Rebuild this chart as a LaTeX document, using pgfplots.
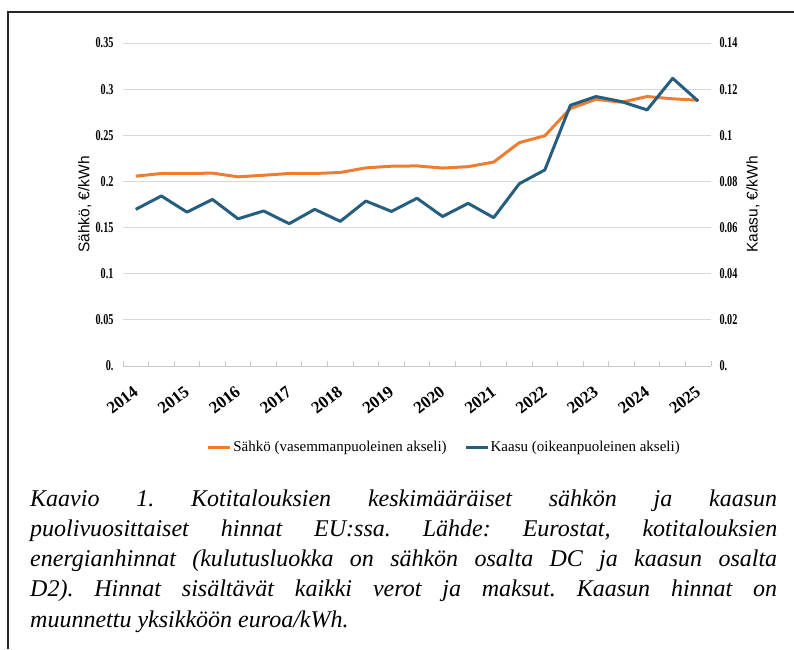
\documentclass[border=0pt]{standalone}
\usepackage{pgfplots}
\pgfplotsset{compat=1.18}
\usepackage{fontspec}
\setmainfont{Liberation Serif}
\newfontfamily\serfont{Liberation Serif}
\newfontfamily\tickfont[FakeStretch=0.68]{Liberation Serif}
\newfontfamily\labfont{Liberation Sans}
\definecolor{sorange}{HTML}{ED7D31}
\definecolor{sblue}{HTML}{255E7E}
\definecolor{gridc}{HTML}{D9D9D9}
\begin{document}
\frenchspacing
\begin{tikzpicture}[x=1pt,y=1pt]
\useasboundingbox (0,0) rectangle (794,649);
\draw[line width=1.4pt, black!85] (8,0) -- (8,637) -- (794,637);
\begin{axis}[
  at={(123pt,283pt)}, anchor=south west,
  scale only axis, width=588pt, height=323pt,
  xmin=-0.5, xmax=22.5, ymin=0, ymax=0.35,
  axis x line*=bottom, axis y line*=left,
  y axis line style={draw=none},
  x axis line style={gridc!80!gray, line width=1pt},
  ytick={0,0.05,0.1,0.15,0.2,0.25,0.3,0.35},
  yticklabels={0.,0.05,0.1,0.15,0.2,0.25,0.3,0.35},
  ymajorgrids, grid style={gridc, line width=0.9pt},
  major y tick style={draw=none},
  yticklabel style={font=\fontsize{15}{16}\tickfont\bfseries, xshift=-6pt},
  xtick={0,2,...,22},
  xticklabels={2014,2015,2016,2017,2018,2019,2020,2021,2022,2023,2024,2025},
  major x tick style={draw=none},
  minor xtick={-0.5,0.5,...,22.5},
  xtick align=inside, minor tick length=5pt,
  minor x tick style={draw=gridc!80!gray, line width=1pt},
  xticklabel style={font=\fontsize{17}{18}\serfont\bfseries, yshift=-14pt, xshift=-3pt, rotate=38, anchor=north east},
  ylabel={Sähkö, €/kWh},
  ylabel style={font=\fontsize{15.5}{16}\labfont, at={(axis description cs:-0.065,0.5)}, anchor=center},
]
\addplot[sorange, line width=3pt, line join=round] coordinates {
(0,0.2057) (1,0.2086) (2,0.2086) (3,0.2090) (4,0.2050) (5,0.2067)
(6,0.2086) (7,0.2086) (8,0.2097) (9,0.2147) (10,0.2165) (11,0.2168)
(12,0.2145) (13,0.2160) (14,0.2210) (15,0.2420) (16,0.2495) (17,0.2790)
(18,0.2890) (19,0.2858) (20,0.2920) (21,0.2895) (22,0.2880)};
\end{axis}
\begin{axis}[
  at={(123pt,283pt)}, anchor=south west,
  scale only axis, width=588pt, height=323pt,
  xmin=-0.5, xmax=22.5, ymin=0, ymax=0.14,
  axis x line=none, axis y line*=right,
  y axis line style={draw=none},
  ytick={0,0.02,0.04,0.06,0.08,0.1,0.12,0.14},
  yticklabels={0.,0.02,0.04,0.06,0.08,0.1,0.12,0.14},
  major y tick style={draw=none},
  yticklabel style={font=\fontsize{15}{16}\tickfont\bfseries, xshift=5pt},
  ylabel={Kaasu, €/kWh},
  ylabel style={font=\fontsize{15.5}{16}\labfont, at={(axis description cs:1.0714,0.5)}, anchor=center, rotate=0},
  legend style={at={(axis description cs:0.546,-0.2508)}, anchor=center, draw=none, fill=none,
    legend columns=2, font=\fontsize{15}{16}\serfont,
    /tikz/every even column/.append style={column sep=16pt},
    nodes={inner sep=1.5pt}},
  legend image code/.code={\draw[#1] (0pt,0pt) -- (22pt,0pt);},
]
\addlegendimage{sorange, line width=3pt}
\addlegendentry{Sähkö (vasemmanpuoleinen akseli)}
\addplot[sblue, line width=3pt, line join=round] coordinates {
(0,0.0679) (1,0.0737) (2,0.0667) (3,0.0722) (4,0.0638) (5,0.0672)
(6,0.0617) (7,0.0679) (8,0.0627) (9,0.0715) (10,0.0670) (11,0.0727)
(12,0.0648) (13,0.0705) (14,0.0643) (15,0.0790) (16,0.0850) (17,0.1130)
(18,0.1168) (19,0.1146) (20,0.1110) (21,0.1247) (22,0.1148)};
\addlegendentry{Kaasu (oikeanpuoleinen akseli)}
\end{axis}
\node[anchor=base west, text width=747pt, align=justify, inner sep=0pt,
  font=\fontsize{24}{30.3}\serfont\itshape] at (30,143) {\frenchspacing Kaavio 1. Kotitalouksien keskimääräiset sähkön ja kaasun\linebreak
puolivuosittaiset hinnat EU:ssa. Lähde: Eurostat, kotitalouksien\linebreak
energianhinnat (kulutusluokka on sähkön osalta DC ja kaasun osalta\linebreak
D2). Hinnat sisältävät kaikki verot ja maksut. Kaasun hinnat on\linebreak
muunnettu yksikköön euroa/kWh.};
\end{tikzpicture}
\end{document}
